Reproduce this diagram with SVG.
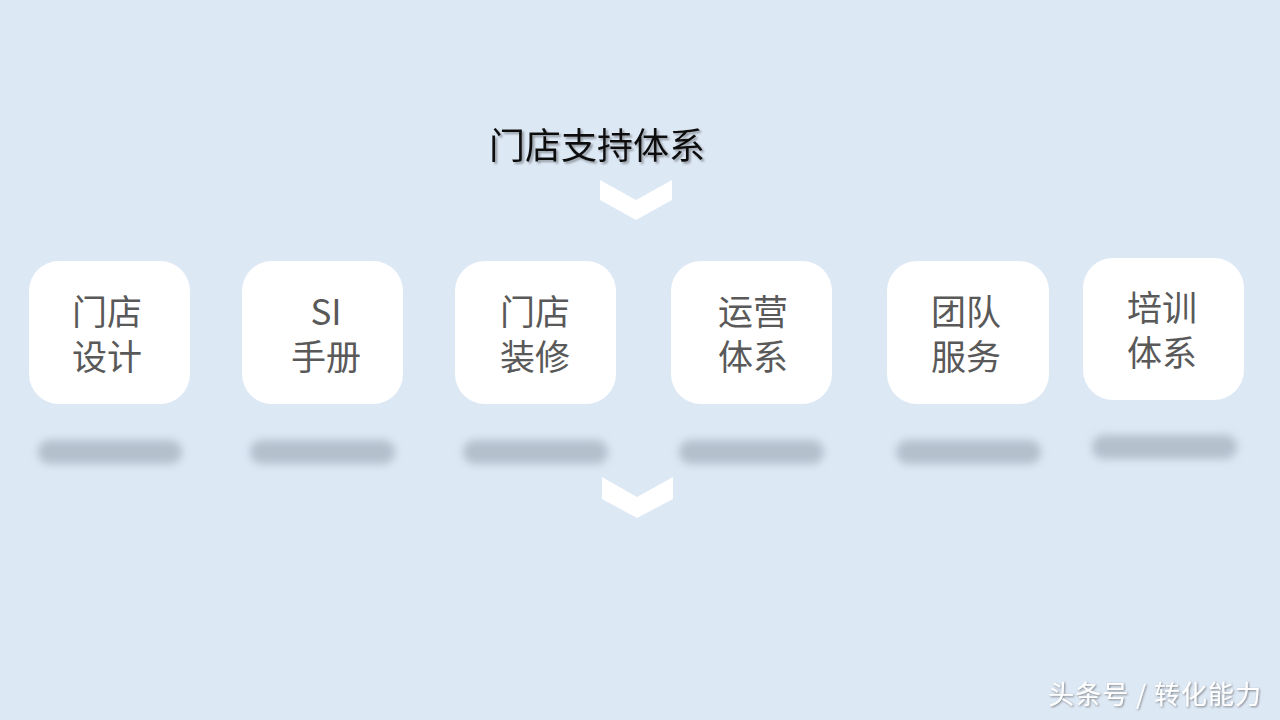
<svg xmlns="http://www.w3.org/2000/svg" width="1280" height="720" viewBox="0 0 1280 720">
<defs>
<filter id="blur" x="-20%" y="-100%" width="140%" height="300%"><feGaussianBlur stdDeviation="4"/></filter>
<filter id="ts" x="-10%" y="-20%" width="120%" height="140%"><feDropShadow dx="2" dy="2" stdDeviation="1.2" flood-color="#000" flood-opacity="0.35"/></filter>
<filter id="ws" x="-10%" y="-20%" width="120%" height="140%"><feDropShadow dx="1" dy="1" stdDeviation="0.8" flood-color="#555" flood-opacity="0.7"/></filter>
</defs>
<style>
.box{fill:#ffffff}
.sh{fill:#b4c0cc;filter:url(#blur)}
.lbl{font-family:"Microsoft YaHei","Noto Sans CJK SC",sans-serif;font-size:35px;fill:#595959;text-anchor:middle}
.chev{fill:#ffffff}
</style>
<rect width="1280" height="720" fill="#dde8f5"/>
<g id="title">
<text x="597" y="159" font-family="'Microsoft YaHei','Noto Sans CJK SC',sans-serif" font-size="36" fill="#111" text-anchor="middle" filter="url(#ts)">门店支持体系</text>
</g>
<g id="connectors">
<polygon class="chev" points="600,180 636,200 672,180 672,200 636,220 600,200"/>
<polygon class="chev" points="602,477 637,497 673,477 673,499 637,518 602,499"/>
</g>
<g id="node1">
<rect class="sh" x="38" y="440" width="144" height="24" rx="12"/>
<rect class="box" x="29" y="261" width="161" height="143" rx="30"/>
<text class="lbl" x="107" y="325">门店</text><text class="lbl" x="107" y="370">设计</text>
</g>
<g id="node2">
<rect class="sh" x="250" y="440" width="145" height="24" rx="12"/>
<rect class="box" x="242" y="261" width="161" height="143" rx="30"/>
<text class="lbl" x="326" y="325">SI</text><text class="lbl" x="326" y="370">手册</text>
</g>
<g id="node3">
<rect class="sh" x="463" y="440" width="145" height="24" rx="12"/>
<rect class="box" x="455" y="261" width="161" height="143" rx="30"/>
<text class="lbl" x="535" y="325">门店</text><text class="lbl" x="535" y="370">装修</text>
</g>
<g id="node4">
<rect class="sh" x="679" y="440" width="145" height="24" rx="12"/>
<rect class="box" x="671" y="261" width="161" height="143" rx="30"/>
<text class="lbl" x="753" y="325">运营</text><text class="lbl" x="753" y="370">体系</text>
</g>
<g id="node5">
<rect class="sh" x="896" y="440" width="145" height="24" rx="12"/>
<rect class="box" x="887" y="261" width="162" height="143" rx="30"/>
<text class="lbl" x="966" y="325">团队</text><text class="lbl" x="966" y="370">服务</text>
</g>
<g id="node6">
<rect class="sh" x="1092" y="435" width="145" height="24" rx="12"/>
<rect class="box" x="1083" y="258" width="161" height="142" rx="30"/>
<text class="lbl" x="1162" y="321">培训</text><text class="lbl" x="1162" y="366">体系</text>
</g>
<g id="watermark">
<text x="1262" y="704" font-family="'Microsoft YaHei','Noto Sans CJK SC',sans-serif" font-size="26" letter-spacing="1" fill="#ffffff" text-anchor="end" filter="url(#ws)">头条号 / 转化能力</text>
</g>
</svg>
